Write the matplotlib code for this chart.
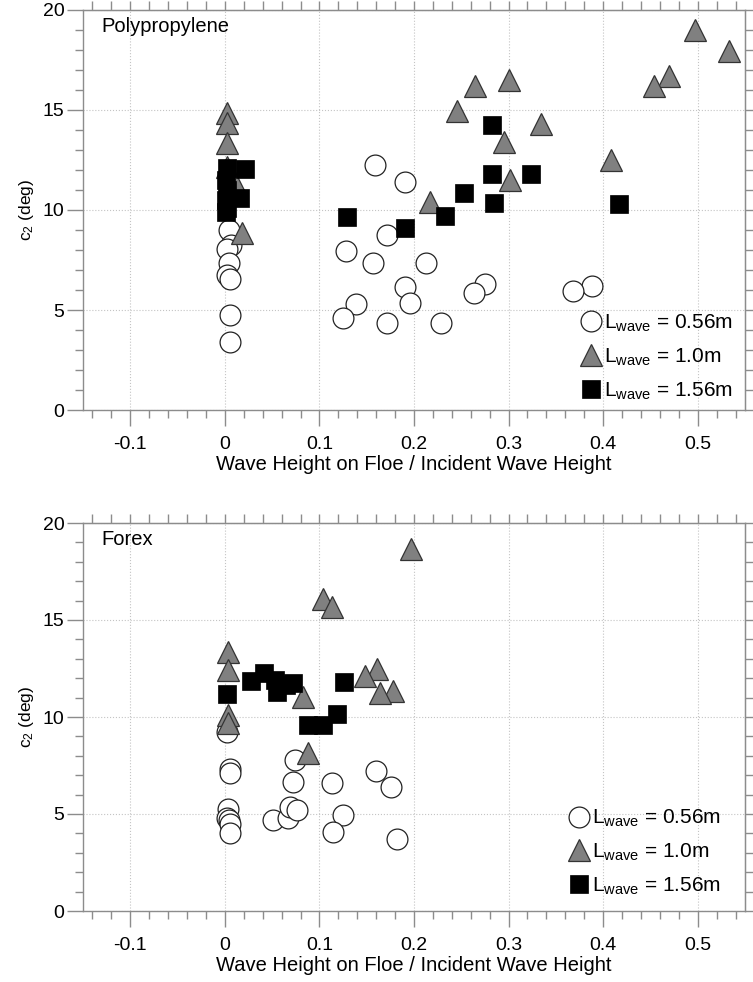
import matplotlib
matplotlib.use("Agg")
import matplotlib.pyplot as plt
from matplotlib.ticker import MultipleLocator

plt.rcParams['font.family'] = ['Liberation Sans', 'DejaVu Sans']
plt.rcParams['mathtext.fontset'] = 'custom'
plt.rcParams['mathtext.rm'] = 'Liberation Sans'
plt.rcParams['mathtext.it'] = 'Liberation Sans'

# ---------------- data: Polypropylene ----------------
pp_c056_x = [0.159, 0.191, 0.171, 0.128, 0.157, 0.213, 0.190, 0.275, 0.263, 0.388, 0.368,
             0.139, 0.196, 0.125, 0.171, 0.229, 0.004, 0.006, 0.002, 0.004, 0.002, 0.005,
             0.005, 0.005]
pp_c056_y = [12.25, 11.38, 8.73, 7.95, 7.37, 7.33, 6.13, 6.30, 5.83, 6.22, 5.93,
             5.28, 5.33, 4.62, 4.37, 4.37, 9.0, 8.25, 8.05, 7.33, 6.75, 6.53,
             4.75, 3.42]
pp_c10_x = [0.497, 0.533, 0.470, 0.454, 0.264, 0.300, 0.245, 0.334, 0.295, 0.408, 0.301,
            0.217, 0.002, 0.002, 0.002, 0.002, 0.011, 0.018]
pp_c10_y = [19.0, 17.97, 16.7, 16.2, 16.2, 16.5, 14.95, 14.3, 13.4, 12.5, 11.5,
            10.4, 14.83, 14.33, 13.37, 12.17, 11.33, 8.83]
pp_c156_x = [0.2825, 0.282, 0.324, 0.2525, 0.285, 0.4166, 0.129, 0.233, 0.1907,
             0.002, 0.021, 0.001, 0.002, 0.001, 0.016, 0.002, 0.001]
pp_c156_y = [14.27, 11.8, 11.8, 10.87, 10.33, 10.3, 9.67, 9.7, 9.12,
             12.1, 12.05, 11.5, 11.0, 10.5, 10.6, 10.1, 9.9]

# ---------------- data: Forex ----------------
fx_c056_x = [0.160, 0.1755, 0.1137, 0.1247, 0.1147, 0.1819, 0.002, 0.005, 0.005, 0.074,
             0.072, 0.0035, 0.002, 0.0046, 0.005, 0.005, 0.0505, 0.067, 0.069, 0.076]
fx_c056_y = [7.23, 6.37, 6.61, 4.95, 4.09, 3.71, 9.24, 7.3, 7.13, 7.78,
             6.66, 5.24, 4.78, 4.69, 4.51, 4.0, 4.69, 4.78, 5.37, 5.2]
fx_c10_x = [0.197, 0.104, 0.113, 0.161, 0.148, 0.178, 0.164, 0.083, 0.088,
            0.003, 0.003, 0.003, 0.003]
fx_c10_y = [18.64, 16.08, 15.65, 12.46, 12.11, 11.34, 11.22, 11.05, 8.17,
            13.37, 12.42, 10.1, 9.67]
fx_c156_x = [0.126, 0.119, 0.104, 0.088, 0.002, 0.028, 0.041, 0.053, 0.055, 0.065, 0.072]
fx_c156_y = [11.82, 10.15, 9.59, 9.59, 11.16, 11.86, 12.25, 11.9, 11.3, 11.65, 11.73]

labels = [r'$\mathregular{L_{wave}}$ = 0.56m', r'$\mathregular{L_{wave}}$ = 1.0m',
          r'$\mathregular{L_{wave}}$ = 1.56m']
xticks = [-0.1, 0, 0.1, 0.2, 0.3, 0.4, 0.5]
xticklabels = ['-0.1', '0', '0.1', '0.2', '0.3', '0.4', '0.5']
yticks = [0, 5, 10, 15, 20]

SPINE = '#8c8c8c'
W, H = 753, 982
fig = plt.figure(figsize=(W / 100, H / 100), dpi=100)

def make_axes(rect, name, cx, cy, tx, ty, sx, sy, leg_anchor):
    ax = fig.add_axes(rect)
    ax.plot(cx, cy, 'o', ms=15, mfc='white', mec='#222222', mew=0.9, ls='none',
            label=labels[0], zorder=3)
    ax.plot(tx, ty, '^', ms=16, mfc='#808080', mec='#333333', mew=0.9, ls='none',
            label=labels[1], zorder=4)
    ax.plot(sx, sy, 's', ms=12.5, mfc='black', mec='black', mew=0.5, ls='none',
            label=labels[2], zorder=5)
    ax.set_xlim(-0.15, 0.55)
    ax.set_ylim(0, 20)
    ax.set_xticks(xticks)
    ax.set_xticklabels(xticklabels)
    ax.set_yticks(yticks)
    ax.xaxis.set_minor_locator(MultipleLocator(0.02))
    ax.yaxis.set_minor_locator(MultipleLocator(1))
    ax.tick_params(which='both', direction='out', colors=SPINE, labelcolor='black',
                   labelsize=14, top=False, right=False)
    ax.tick_params(which='major', length=11.5, width=1)
    ax.tick_params(which='minor', length=6, width=1)
    ax.tick_params(axis='x', which='major', pad=7)
    ax.tick_params(axis='y', which='major', pad=2)
    for s in ax.spines.values():
        s.set_color(SPINE)
        s.set_linewidth(1)
    ax.grid(True, which='major', ls=':', color='#c4c4c4', lw=0.8)
    ax.set_axisbelow(True)
    ax.set_xlabel('Wave Height on Floe / Incident Wave Height', fontsize=14.5, labelpad=2)
    ax.set_ylabel(r'$\mathregular{c_2}$ (deg)', fontsize=12.5, labelpad=5)
    ax.text(0.028, 0.982, name, transform=ax.transAxes, fontsize=14.5, va='top', ha='left')

    secx = ax.secondary_xaxis('top')
    secx.set_xticks(xticks)
    secx.xaxis.set_minor_locator(MultipleLocator(0.02))
    secx.tick_params(which='both', direction='out', length=6.5, width=1, colors=SPINE,
                     labeltop=False)
    secx.spines['top'].set_color(SPINE)
    secy = ax.secondary_yaxis('right')
    secy.set_yticks(yticks)
    secy.yaxis.set_minor_locator(MultipleLocator(1))
    secy.tick_params(which='both', direction='out', length=6, width=1, colors=SPINE,
                     labelright=False)
    secy.spines['right'].set_color(SPINE)

    ax.legend(loc='lower right', bbox_to_anchor=leg_anchor, frameon=False,
              fontsize=15, handletextpad=0.0, labelspacing=0.6,
              handlelength=1.2, borderaxespad=0.0)
    return ax

l, r = 83 / W, 745 / W
make_axes([l, 1 - 410 / H, r - l, 400 / H], 'Polypropylene',
          pp_c056_x, pp_c056_y, pp_c10_x, pp_c10_y, pp_c156_x, pp_c156_y, (0.994, 0.0))
make_axes([l, 1 - 911 / H, r - l, 388 / H], 'Forex',
          fx_c056_x, fx_c056_y, fx_c10_x, fx_c10_y, fx_c156_x, fx_c156_y, (0.976, 0.015))

fig.savefig('out.png', dpi=100)
